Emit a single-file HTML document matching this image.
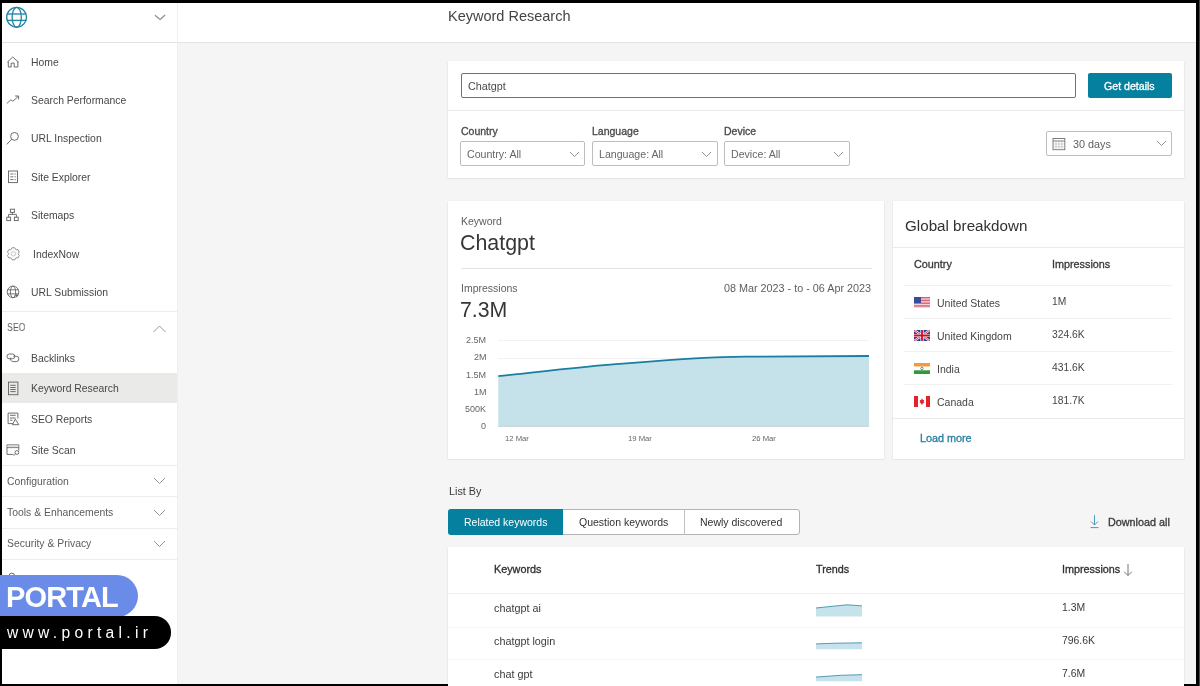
<!DOCTYPE html>
<html><head><meta charset="utf-8"><style>
html,body{margin:0;padding:0;}
body{width:1200px;height:686px;background:#000;position:relative;overflow:hidden;font-family:"Liberation Sans",sans-serif;}
.a{position:absolute;}
.t{position:absolute;white-space:nowrap;will-change:transform;}
</style></head><body>
<div class="a" style="left:2px;top:3px;width:1194px;height:681px;background:#f5f5f5;"></div>
<div class="a" style="left:1199px;top:0px;width:1px;height:686px;background:#484848;"></div>
<div class="a" style="left:2px;top:3px;width:175px;height:681px;background:#fff;"></div>
<div class="a" style="left:177px;top:3px;width:1px;height:681px;background:#efefef;"></div>
<div class="a" style="left:178px;top:3px;width:1018px;height:39px;background:#fff;"></div>
<div class="a" style="left:2px;top:42px;width:1194px;height:1px;background:#e3e3e3;"></div>
<svg class="a" style="left:5px;top:6px;" width="24" height="24" viewBox="0 0 24 24" fill="none"><g stroke="#2185a6" stroke-width="1.35"><circle cx="11.6" cy="11.3" r="9.9"/><ellipse cx="11.7" cy="11.3" rx="4.6" ry="9.9"/><line x1="1.8" y1="8" x2="21.4" y2="8"/><line x1="1.8" y1="14.4" x2="21.4" y2="14.4"/></g></svg>
<svg class="a" style="left:153px;top:13px;" width="14" height="8" viewBox="0 0 14 8" fill="none"><path d="M1.9 2.2 L7.1 6.5 L12.1 2" stroke="#8c8c8c" stroke-width="1.2"/></svg>
<div class="t" style="left:31px;top:57.70px;font-size:10.4px;line-height:10.4px;color:#474747;">Home</div>
<div class="t" style="left:31px;top:95.90px;font-size:10.4px;line-height:10.4px;color:#474747;">Search Performance</div>
<div class="t" style="left:31px;top:134.20px;font-size:10.4px;line-height:10.4px;color:#474747;">URL Inspection</div>
<div class="t" style="left:31px;top:173.00px;font-size:10.4px;line-height:10.4px;color:#474747;">Site Explorer</div>
<div class="t" style="left:31px;top:211.00px;font-size:10.4px;line-height:10.4px;color:#474747;">Sitemaps</div>
<div class="t" style="left:32.5px;top:249.50px;font-size:10.4px;line-height:10.4px;color:#474747;">IndexNow</div>
<div class="t" style="left:31px;top:287.80px;font-size:10.4px;line-height:10.4px;color:#474747;">URL Submission</div>
<div class="a" style="left:2px;top:311px;width:175px;height:1px;background:#ececec;"></div>
<div class="t" style="left:7px;top:323.00px;font-size:10.4px;line-height:10.4px;color:#5c5c5c;transform:scaleX(0.84);transform-origin:0 0;">SEO</div>
<svg class="a" style="left:151.5px;top:323.5px;" width="16" height="10" viewBox="0 0 16 10" fill="none"><path d="M1.5 8 L7.5 2 L13.5 8" stroke="#8aa0a0" stroke-width="1"/></svg>
<div class="a" style="left:2px;top:373px;width:174.5px;height:30px;background:#eaeae8;"></div>
<div class="t" style="left:31px;top:354.00px;font-size:10.4px;line-height:10.4px;color:#474747;">Backlinks</div>
<div class="t" style="left:31px;top:384.20px;font-size:10.4px;line-height:10.4px;color:#474747;">Keyword Research</div>
<div class="t" style="left:31px;top:415.20px;font-size:10.4px;line-height:10.4px;color:#474747;">SEO Reports</div>
<div class="t" style="left:31px;top:445.70px;font-size:10.4px;line-height:10.4px;color:#474747;">Site Scan</div>
<div class="a" style="left:2px;top:465px;width:175px;height:1px;background:#ececec;"></div>
<div class="t" style="left:7px;top:476.70px;font-size:10.4px;line-height:10.4px;color:#5c5c5c;">Configuration</div>
<svg class="a" style="left:152.5px;top:477.2px;" width="13" height="8" viewBox="0 0 13 8" fill="none"><path d="M1 1 L6.5 6.5 L12 1" stroke="#8aa0a0" stroke-width="1"/></svg>
<div class="a" style="left:2px;top:496px;width:175px;height:1px;background:#ececec;"></div>
<div class="t" style="left:7px;top:508.00px;font-size:10.4px;line-height:10.4px;color:#5c5c5c;">Tools &amp; Enhancements</div>
<svg class="a" style="left:152.5px;top:508.5px;" width="13" height="8" viewBox="0 0 13 8" fill="none"><path d="M1 1 L6.5 6.5 L12 1" stroke="#8aa0a0" stroke-width="1"/></svg>
<div class="a" style="left:2px;top:528px;width:175px;height:1px;background:#ececec;"></div>
<div class="t" style="left:7px;top:539.30px;font-size:10.4px;line-height:10.4px;color:#5c5c5c;">Security &amp; Privacy</div>
<svg class="a" style="left:152.5px;top:539.8px;" width="13" height="8" viewBox="0 0 13 8" fill="none"><path d="M1 1 L6.5 6.5 L12 1" stroke="#8aa0a0" stroke-width="1"/></svg>
<div class="a" style="left:2px;top:559px;width:175px;height:1px;background:#ececec;"></div>
<svg class="a" style="left:6px;top:56px;" width="14" height="13" viewBox="0 0 14 13" fill="none"><path d="M1.4 6.2 L6.7 1 L12.6 6.2 M2.3 5.4 V11 H5.2 V7.1 H8.2 V11 H11.9 V5.4" stroke="#666" stroke-width="0.95" stroke-linejoin="round"/></svg>
<svg class="a" style="left:6px;top:95px;" width="14" height="10" viewBox="0 0 14 10" fill="none"><path d="M0.8 8.5 L4.75 4.9 L6.9 6.2 L12.2 1.4 M9.1 1 H12.6 V4.4" stroke="#666" stroke-width="0.95"/></svg>
<svg class="a" style="left:6px;top:131px;" width="14" height="15" viewBox="0 0 14 15" fill="none"><circle cx="8.5" cy="5.4" r="3.9" stroke="#666" stroke-width="0.95"/><path d="M5.7 8.2 L0.8 13.4" stroke="#666" stroke-width="1"/></svg>
<svg class="a" style="left:7px;top:170px;" width="12" height="14" viewBox="0 0 12 14" fill="none"><rect x="1.5" y="1" width="9" height="11.6" stroke="#666" stroke-width="0.95"/><path d="M3.3 4 H6.4 M3.3 6.8 H6.4 M3.3 9.6 H6.4 M7.5 4 H8.8 M7.5 6.8 H8.8 M7.5 9.6 H8.8" stroke="#666" stroke-width="0.9"/></svg>
<svg class="a" style="left:5px;top:208px;" width="15" height="14" viewBox="0 0 15 14" fill="none"><rect x="5.4" y="1.2" width="4" height="3.2" stroke="#666" stroke-width="0.95"/><path d="M7.4 4.4 V6.4 M3.6 9.2 V6.4 H11.4 V9.2" stroke="#666" stroke-width="0.95"/><rect x="1.8" y="9.2" width="3.8" height="3.4" stroke="#666" stroke-width="0.95"/><rect x="9.4" y="9.2" width="3.8" height="3.4" stroke="#666" stroke-width="0.95"/></svg>
<svg class="a" style="left:6px;top:247px;" width="15" height="15" viewBox="0 0 15 15" fill="none"><polygon points="5.25,2.40 6.01,0.76 8.79,0.76 9.55,2.40 10.14,2.74 11.93,2.57 13.33,4.99 12.29,6.46 12.29,7.14 13.33,8.61 11.93,11.03 10.14,10.86 9.55,11.20 8.79,12.84 6.01,12.84 5.25,11.20 4.66,10.86 2.87,11.03 1.47,8.61 2.51,7.14 2.51,6.46 1.47,4.99 2.87,2.57 4.66,2.74" stroke="#888" stroke-width="0.9" stroke-linejoin="round"/><circle cx="7.4" cy="6.8" r="2.2" stroke="#bbb" stroke-width="0.8"/></svg>
<svg class="a" style="left:6px;top:285px;" width="15" height="15" viewBox="0 0 15 15" fill="none"><g stroke="#666" stroke-width="0.9"><circle cx="7" cy="6.9" r="5.8"/><ellipse cx="7" cy="6.9" rx="2.6" ry="5.8"/><line x1="1.3" y1="4.8" x2="12.7" y2="4.8"/><line x1="1.3" y1="8.9" x2="12.7" y2="8.9"/></g><path d="M9.2 10.6 H12.4 M10.8 9 V12.2" stroke="#666" stroke-width="1"/></svg>
<svg class="a" style="left:5px;top:352px;" width="16" height="11" viewBox="0 0 16 11" fill="none"><g stroke="#666" stroke-width="0.95"><rect x="2" y="2" width="7.8" height="4.8" rx="2.4"/><path d="M8.3 4.2 H11.2 A2.7 2.7 0 0 1 11.2 9.6 H8.2 A2.7 2.7 0 0 1 5.8 5.6"/></g></svg>
<svg class="a" style="left:8px;top:381px;" width="11" height="15" viewBox="0 0 11 15" fill="none"><g stroke="#666" stroke-width="0.95"><rect x="0.5" y="1.1" width="9.4" height="12.6"/><path d="M2.3 4.3 H7.7 M2.3 6.5 H7.7 M2.3 8.5 H7.7 M2.3 10.6 H7.7"/></g></svg>
<svg class="a" style="left:7px;top:412px;" width="14" height="15" viewBox="0 0 14 15" fill="none"><g stroke="#666" stroke-width="0.95"><path d="M6 11.6 H1.1 V1.1 H10.9 V6.5"/><path d="M3 3.3 H8.7 M3 6 H8.7 M3 8.2 H5.5"/><path d="M8.3 7.2 L11.8 12.7 H5.5 Z" stroke-linejoin="round"/></g></svg>
<svg class="a" style="left:6px;top:444px;" width="15" height="13" viewBox="0 0 15 13" fill="none"><g stroke="#666" stroke-width="0.95"><path d="M7.5 10.4 H1 V0.9 H12.8 V6.6"/><line x1="1" y1="3.6" x2="12.8" y2="3.6"/><circle cx="10.9" cy="8.5" r="1.9"/><path d="M9.5 10 L7.6 11.6"/></g><rect x="1.5" y="1.4" width="10.8" height="1.8" fill="#ddd"/></svg>
<div class="t" style="left:448.3px;top:9.03px;font-size:14.5px;line-height:14.5px;color:#444;">Keyword Research</div>
<div class="a" style="left:448px;top:61px;width:736px;height:117px;background:#fff;box-shadow:0 0.5px 1.5px rgba(0,0,0,.14),0 0 1px rgba(0,0,0,.06);"></div>
<div class="a" style="left:461px;top:73px;width:615px;height:25px;border:1px solid #707070;border-radius:2px;box-sizing:border-box;background:#fff;"></div>
<div class="t" style="left:467.5px;top:81.36px;font-size:10.8px;line-height:10.8px;color:#4a4a4a;">Chatgpt</div>
<div class="a" style="left:1088px;top:73.4px;width:84px;height:24.2px;background:#05809f;border-radius:2px;"></div>
<div class="t" style="left:1103.8px;top:80.83px;font-size:10.6px;line-height:10.6px;color:#fff;-webkit-text-stroke:0.32px #fff;">Get details</div>
<div class="a" style="left:448px;top:110px;width:736px;height:1px;background:#ebebeb;"></div>
<div class="t" style="left:460.6px;top:126.11px;font-size:10.5px;line-height:10.5px;color:#4a4a4a;-webkit-text-stroke:0.32px #4a4a4a;">Country</div>
<div class="a" style="left:460px;top:141px;width:125px;height:25px;border:1px solid #bdbdbd;border-radius:2px;box-sizing:border-box;background:#fff;"></div>
<div class="t" style="left:467.40000000000003px;top:149.03px;font-size:10.6px;line-height:10.6px;color:#666;">Country: All</div>
<svg class="a" style="left:569.1px;top:150.5px;" width="11" height="7" viewBox="0 0 11 7" fill="none"><path d="M1 1 L5.5 5.5 L10 1" stroke="#8a8a8a" stroke-width="0.9"/></svg>
<div class="t" style="left:592.3px;top:126.11px;font-size:10.5px;line-height:10.5px;color:#4a4a4a;-webkit-text-stroke:0.32px #4a4a4a;">Language</div>
<div class="a" style="left:592px;top:141px;width:126px;height:25px;border:1px solid #bdbdbd;border-radius:2px;box-sizing:border-box;background:#fff;"></div>
<div class="t" style="left:599.0999999999999px;top:149.03px;font-size:10.6px;line-height:10.6px;color:#666;">Language: All</div>
<svg class="a" style="left:700.8px;top:150.5px;" width="11" height="7" viewBox="0 0 11 7" fill="none"><path d="M1 1 L5.5 5.5 L10 1" stroke="#8a8a8a" stroke-width="0.9"/></svg>
<div class="t" style="left:724.3px;top:126.11px;font-size:10.5px;line-height:10.5px;color:#4a4a4a;-webkit-text-stroke:0.32px #4a4a4a;">Device</div>
<div class="a" style="left:724px;top:141px;width:126px;height:25px;border:1px solid #bdbdbd;border-radius:2px;box-sizing:border-box;background:#fff;"></div>
<div class="t" style="left:731.0999999999999px;top:149.03px;font-size:10.6px;line-height:10.6px;color:#666;">Device: All</div>
<svg class="a" style="left:832.8px;top:150.5px;" width="11" height="7" viewBox="0 0 11 7" fill="none"><path d="M1 1 L5.5 5.5 L10 1" stroke="#8a8a8a" stroke-width="0.9"/></svg>
<div class="a" style="left:1046px;top:131px;width:126px;height:25px;border:1px solid #bdbdbd;border-radius:2px;box-sizing:border-box;background:#fff;"></div>
<svg class="a" style="left:1052px;top:137px;" width="14" height="14" viewBox="0 0 14 14" fill="none"><g stroke="#707070" stroke-width="0.9"><rect x="1" y="1.5" width="11.8" height="11.2"/><line x1="1" y1="4" x2="12.8" y2="4"/><path d="M1 7 H12.8 M1 9.8 H12.8 M4 4 V12.7 M6.9 4 V12.7 M9.8 4 V12.7" stroke="#aaa" stroke-width="0.5"/></g></svg>
<div class="t" style="left:1072.5px;top:139.46px;font-size:10.8px;line-height:10.8px;color:#605e5c;">30 days</div>
<svg class="a" style="left:1155.5px;top:140px;" width="11" height="7" viewBox="0 0 11 7" fill="none"><path d="M1 1 L5.5 5.5 L10 1" stroke="#8a8a8a" stroke-width="0.9"/></svg>
<div class="a" style="left:448px;top:201px;width:436px;height:257.5px;background:#fff;box-shadow:0 0.5px 1.5px rgba(0,0,0,.14),0 0 1px rgba(0,0,0,.06);"></div>
<div class="t" style="left:460.6px;top:216.01px;font-size:10.5px;line-height:10.5px;color:#605e5c;">Keyword</div>
<div class="t" style="left:460.2px;top:233.08px;font-size:21.4px;line-height:21.4px;color:#363636;">Chatgpt</div>
<div class="a" style="left:460.6px;top:268px;width:411.4px;height:1px;background:#e3e3e3;"></div>
<div class="t" style="left:460.6px;top:283.01px;font-size:10.5px;line-height:10.5px;color:#605e5c;">Impressions</div>
<div class="t" style="right:329px;top:282.76px;font-size:10.8px;line-height:10.8px;color:#605e5c;text-align:right;">08 Mar 2023 - to - 06 Apr 2023</div>
<div class="t" style="left:460.2px;top:299.57px;font-size:21.3px;line-height:21.3px;color:#363636;">7.3M</div>
<div class="t" style="right:713.6px;top:336.18px;font-size:9px;line-height:9px;color:#666;text-align:right;">2.5M</div>
<div class="t" style="right:713.6px;top:353.38px;font-size:9px;line-height:9px;color:#666;text-align:right;">2M</div>
<div class="t" style="right:713.6px;top:370.58px;font-size:9px;line-height:9px;color:#666;text-align:right;">1.5M</div>
<div class="t" style="right:713.6px;top:387.78px;font-size:9px;line-height:9px;color:#666;text-align:right;">1M</div>
<div class="t" style="right:713.6px;top:404.98px;font-size:9px;line-height:9px;color:#666;text-align:right;">500K</div>
<div class="t" style="right:713.6px;top:422.18px;font-size:9px;line-height:9px;color:#666;text-align:right;">0</div>
<div class="a" style="left:498px;top:340px;width:371px;height:1px;background:#f3f3f3;"></div>
<div class="a" style="left:498px;top:358px;width:371px;height:1px;background:#f3f3f3;"></div>
<div class="a" style="left:498px;top:375px;width:371px;height:1px;background:#f3f3f3;"></div>
<div class="a" style="left:498px;top:392px;width:371px;height:1px;background:#f3f3f3;"></div>
<div class="a" style="left:498px;top:409px;width:371px;height:1px;background:#f3f3f3;"></div>
<svg class="a" style="left:498px;top:356px;overflow:visible" width="372" height="72" viewBox="0 0 372 72"><path d="M0.3 70.3 L0.3 20.2 C40 16 90 10 125 7.7 C170 4 210 0.9 247 0.7 L371 0 L371 70.3 Z" fill="#c5e2ea"/><path d="M0.3 20.2 C40 16 90 10 125 7.7 C170 4 210 0.9 247 0.7 L371 0" stroke="#197ea0" stroke-width="1.8" fill="none"/><line x1="0" y1="70.3" x2="371" y2="70.3" stroke="#b8c8cc" stroke-width="0.8"/></svg>
<div class="t" style="left:504.7px;top:435.08px;font-size:7.7px;line-height:7.7px;color:#666;">12 Mar</div>
<div class="t" style="left:628px;top:435.08px;font-size:7.7px;line-height:7.7px;color:#666;">19 Mar</div>
<div class="t" style="left:751.6px;top:435.08px;font-size:7.7px;line-height:7.7px;color:#666;">26 Mar</div>
<div class="a" style="left:893px;top:201px;width:291px;height:258px;background:#fff;box-shadow:0 0.5px 1.5px rgba(0,0,0,.14),0 0 1px rgba(0,0,0,.06);"></div>
<div class="t" style="left:905.1px;top:217.53px;font-size:15.2px;line-height:15.2px;color:#323130;">Global breakdown</div>
<div class="a" style="left:893px;top:247px;width:291px;height:1px;background:#ebebeb;"></div>
<div class="t" style="left:914.2px;top:258.96px;font-size:10.8px;line-height:10.8px;color:#3b3a39;-webkit-text-stroke:0.32px #3b3a39;">Country</div>
<div class="t" style="left:1052.4px;top:258.96px;font-size:10.8px;line-height:10.8px;color:#3b3a39;-webkit-text-stroke:0.32px #3b3a39;">Impressions</div>
<div class="a" style="left:904.4px;top:285px;width:267.3px;height:1px;background:#f1f1f1;"></div>
<div class="t" style="left:936.7px;top:297.71px;font-size:10.5px;line-height:10.5px;color:#484644;">United States</div>
<div class="t" style="left:1052.4px;top:296.88px;font-size:10.3px;line-height:10.3px;color:#484644;">1M</div>
<div class="a" style="left:904.4px;top:318px;width:267.3px;height:1px;background:#f1f1f1;"></div>
<div class="t" style="left:936.7px;top:330.51px;font-size:10.5px;line-height:10.5px;color:#484644;">United Kingdom</div>
<div class="t" style="left:1052.4px;top:329.68px;font-size:10.3px;line-height:10.3px;color:#484644;">324.6K</div>
<div class="a" style="left:904.4px;top:351px;width:267.3px;height:1px;background:#f1f1f1;"></div>
<div class="t" style="left:936.7px;top:363.61px;font-size:10.5px;line-height:10.5px;color:#484644;">India</div>
<div class="t" style="left:1052.4px;top:362.78px;font-size:10.3px;line-height:10.3px;color:#484644;">431.6K</div>
<div class="a" style="left:904.4px;top:384px;width:267.3px;height:1px;background:#f1f1f1;"></div>
<div class="t" style="left:936.7px;top:396.71px;font-size:10.5px;line-height:10.5px;color:#484644;">Canada</div>
<div class="t" style="left:1052.4px;top:395.88px;font-size:10.3px;line-height:10.3px;color:#484644;">181.7K</div>
<div class="a" style="left:893px;top:418px;width:291px;height:1px;background:#ebebeb;"></div>
<div class="t" style="left:920.4px;top:433.16px;font-size:10.8px;line-height:10.8px;color:#2a7fa4;-webkit-text-stroke:0.32px #2a7fa4;">Load more</div>
<svg class="a" style="left:914.2px;top:297px" width="16" height="11" viewBox="0 0 16 11"><rect width="16" height="11" fill="#fff"/><rect y="0.00" width="16" height="0.79" fill="#c9364a"/><rect y="1.57" width="16" height="0.79" fill="#c9364a"/><rect y="3.14" width="16" height="0.79" fill="#c9364a"/><rect y="4.71" width="16" height="0.79" fill="#c9364a"/><rect y="6.29" width="16" height="0.79" fill="#c9364a"/><rect y="7.86" width="16" height="0.79" fill="#c9364a"/><rect y="9.43" width="16" height="0.79" fill="#c9364a"/><rect width="7" height="6" fill="#3b4a9a"/></svg>
<svg class="a" style="left:914.2px;top:330px" width="16" height="11" viewBox="0 0 16 11"><rect width="16" height="11" fill="#2a3f8f"/><path d="M0 0 L16 11 M16 0 L0 11" stroke="#fff" stroke-width="2.2"/><path d="M0 0 L16 11 M16 0 L0 11" stroke="#c8102e" stroke-width="0.8"/><path d="M8 0 V11 M0 5.5 H16" stroke="#fff" stroke-width="3.2"/><path d="M8 0 V11 M0 5.5 H16" stroke="#c8102e" stroke-width="1.8"/></svg>
<svg class="a" style="left:914.2px;top:363px" width="16" height="11" viewBox="0 0 16 11"><rect width="16" height="3.7" fill="#f29a3d"/><rect y="3.7" width="16" height="3.6" fill="#fff"/><rect y="7.3" width="16" height="3.7" fill="#2f9a3a"/><circle cx="8" cy="5.5" r="1.3" fill="none" stroke="#2a3a8a" stroke-width="0.6"/></svg>
<svg class="a" style="left:914.2px;top:396px" width="16" height="11" viewBox="0 0 16 11"><rect width="16" height="11" fill="#fff"/><rect width="4" height="11" fill="#e0242b"/><rect x="12" width="4" height="11" fill="#e0242b"/><path d="M8 2.3 L9 4.3 L10.3 3.8 L9.7 6.2 L10.8 6 L8.3 7.9 L8.3 9 H7.7 L7.7 7.9 L5.2 6 L6.3 6.2 L5.7 3.8 L7 4.3 Z" fill="#e0242b"/></svg>
<div class="t" style="left:448.6px;top:486.16px;font-size:10.8px;line-height:10.8px;color:#3b3a39;">List By</div>
<div class="a" style="left:448px;top:509px;width:352px;height:26px;border:1px solid #b4b4b4;border-radius:3px;box-sizing:border-box;background:#fff;"></div>
<div class="a" style="left:448px;top:509px;width:115px;height:26px;background:#05809f;border-radius:3px 0 0 3px;"></div>
<div class="a" style="left:684px;top:509px;width:1px;height:26px;background:#c0c0c0;"></div>
<div class="t" style="left:464px;top:516.91px;font-size:10.5px;line-height:10.5px;color:#fff;">Related keywords</div>
<div class="t" style="left:578.5px;top:516.91px;font-size:10.5px;line-height:10.5px;color:#323130;">Question keywords</div>
<div class="t" style="left:700px;top:516.91px;font-size:10.5px;line-height:10.5px;color:#323130;">Newly discovered</div>
<svg class="a" style="left:1089px;top:514px;" width="11" height="15" viewBox="0 0 11 15" fill="none"><path d="M5.5 1.2 V11 M2 7.5 L5.5 11 L9 7.5 M1.5 13.6 H9.5" stroke="#3a98b6" stroke-width="0.95"/></svg>
<div class="t" style="left:1107.6px;top:516.86px;font-size:10.8px;line-height:10.8px;color:#3b3a39;-webkit-text-stroke:0.32px #3b3a39;">Download all</div>
<div class="a" style="left:448px;top:547.4px;width:736px;height:140px;background:#fff;box-shadow:0 0.5px 1.5px rgba(0,0,0,.14),0 0 1px rgba(0,0,0,.06);"></div>
<div class="t" style="left:494.4px;top:563.86px;font-size:10.8px;line-height:10.8px;color:#323130;-webkit-text-stroke:0.32px #323130;">Keywords</div>
<div class="t" style="left:816.4px;top:563.86px;font-size:10.8px;line-height:10.8px;color:#323130;-webkit-text-stroke:0.32px #323130;">Trends</div>
<div class="t" style="left:1061.7px;top:563.86px;font-size:10.8px;line-height:10.8px;color:#323130;-webkit-text-stroke:0.32px #323130;">Impressions</div>
<svg class="a" style="left:1123px;top:563px;" width="10" height="14" viewBox="0 0 10 14" fill="none"><path d="M5 1 V12.5 M1.3 8.8 L5 12.5 L8.7 8.8" stroke="#777" stroke-width="1"/></svg>
<div class="a" style="left:448px;top:592.5px;width:736px;height:1px;background:#efefef;"></div>
<div class="a" style="left:448px;top:626.5px;width:736px;height:1px;background:#f5f5f5;"></div>
<div class="a" style="left:448px;top:659px;width:736px;height:1px;background:#f5f5f5;"></div>
<div class="t" style="left:494.4px;top:602.96px;font-size:10.8px;line-height:10.8px;color:#3b3a39;">chatgpt ai</div>
<div class="t" style="left:1062px;top:603.30px;font-size:10.4px;line-height:10.4px;color:#3b3a39;">1.3M</div>
<div class="t" style="left:494.4px;top:635.96px;font-size:10.8px;line-height:10.8px;color:#3b3a39;">chatgpt login</div>
<div class="t" style="left:1062px;top:636.30px;font-size:10.4px;line-height:10.4px;color:#3b3a39;">796.6K</div>
<div class="t" style="left:494.4px;top:668.96px;font-size:10.8px;line-height:10.8px;color:#3b3a39;">chat gpt</div>
<div class="t" style="left:1062px;top:669.30px;font-size:10.4px;line-height:10.4px;color:#3b3a39;">7.6M</div>
<svg class="a" style="left:816px;top:603.5px;overflow:visible" width="47" height="12.4" viewBox="0 0 47 12.4"><path d="M0 4 L31 0.8 L46 1.9 L46 12.4 L0 12.4 Z" fill="#c6e2ea"/><path d="M0 4 L31 0.8 L46 1.9" stroke="#4393ae" stroke-width="0.9" fill="none"/></svg>
<svg class="a" style="left:816px;top:641.5px;overflow:visible" width="47" height="7.2" viewBox="0 0 47 7.2"><path d="M0 1.9 L20 1.2 L46 0.8 L46 7.2 L0 7.2 Z" fill="#c6e2ea"/><path d="M0 1.9 L20 1.2 L46 0.8" stroke="#4393ae" stroke-width="0.9" fill="none"/></svg>
<svg class="a" style="left:816px;top:674.3px;overflow:visible" width="47" height="7.3" viewBox="0 0 47 7.3"><path d="M0 3.1 L24.5 1.3 L46 0.7 L46 7.3 L0 7.3 Z" fill="#c6e2ea"/><path d="M0 3.1 L24.5 1.3 L46 0.7" stroke="#4393ae" stroke-width="0.9" fill="none"/></svg>
<svg class="a" style="left:8px;top:571px;" width="8" height="5" viewBox="0 0 8 5" fill="none"><path d="M1 5 A2.8 2.8 0 0 1 6.6 5" stroke="#666" stroke-width="1"/></svg>
<div class="a" style="left:0px;top:575px;width:138px;height:42px;background:#6a8ce8;border-radius:0 21px 21px 0;"></div>
<div class="t" style="left:5.5px;top:583.45px;font-size:29px;line-height:29px;color:#fff;font-weight:700;letter-spacing:-0.85px;">PORTAL</div>
<div class="a" style="left:0px;top:616px;width:171px;height:32.5px;background:#000;border-radius:0 16.25px 16.25px 0;"></div>
<div class="t" style="left:6.5px;top:624.99px;font-size:15.6px;line-height:15.6px;color:#fff;letter-spacing:4.3px;">www.portal.ir</div>
</body></html>
